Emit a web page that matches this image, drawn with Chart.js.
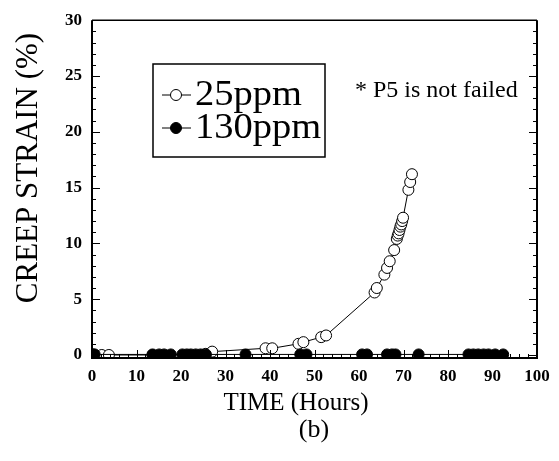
<!DOCTYPE html>
<html><head><meta charset="utf-8">
<script src="https://cdn.jsdelivr.net/npm/chart.js@4/dist/chart.umd.min.js"></script>
<style>html,body{margin:0;padding:0;background:#fff;} #wrap{position:relative;width:559px;height:461px;}</style>
</head><body><div id="wrap"><canvas id="c" width="559" height="461"></canvas></div>
<script>
// ---- data ----
const time25   = [0, 2.2, 3.8, 13.6, 25.5, 27.0, 39.0, 40.5, 46.4, 47.5, 51.5, 52.6, 63.5, 64.0, 65.7, 66.3, 66.9, 67.9, 68.5, 68.7, 68.9, 69.1, 69.3, 69.5, 69.7, 69.9, 71.1, 71.5, 71.9];
const strain25 = [0, 0, 0, 0, 0.1, 0.3, 0.6, 0.6, 1.0, 1.15, 1.6, 1.75, 5.6, 6.0, 7.2, 7.8, 8.4, 9.4, 10.4, 10.7, 10.9, 11.2, 11.5, 11.7, 12.0, 12.3, 14.8, 15.5, 16.2];
const time130   = [0, 0.3, 0.6, 13.6, 15.1, 16.2, 17.7, 20.3, 21.3, 22.2, 23.3, 24.4, 25.6, 34.5, 46.8, 48.2, 60.7, 61.8, 66.3, 67.4, 68.2, 73.4, 84.6, 85.7, 86.8, 88.0, 89.1, 90.6, 92.4];
const strain130 = [0.05, 0.05, 0.05, 0.05, 0.05, 0.05, 0.05, 0.05, 0.05, 0.05, 0.05, 0.05, 0.05, 0.05, 0.05, 0.05, 0.05, 0.05, 0.05, 0.05, 0.05, 0.05, 0.05, 0.05, 0.05, 0.05, 0.05, 0.05, 0.05];
const xTicks = [0, 10, 20, 30, 40, 50, 60, 70, 80, 90, 100];
const yTicks = [0, 5, 10, 15, 20, 25, 30];
const seriesNames = ['25ppm', '130ppm'];
const xTitle = 'TIME (Hours)';
const yTitle = 'CREEP STRAIN (%)';
const caption = '(b)';
const note = '* P5 is not failed';

const SERIF = '"Liberation Serif", "Times New Roman", serif';

const framePlugin = {
  id: 'frame',
  afterDatasetsDraw(chart) {
    const {ctx, chartArea: a, scales: {x, y}} = chart;
    ctx.save();
    ctx.strokeStyle = '#000';
    ctx.lineWidth = 1;
    ctx.beginPath();
    for (let v = 0; v <= 30; v += 1) {
      const py = Math.round(y.getPixelForValue(v)) + 0.5;
      const len = (v % 5 === 0) ? 8 : 4;
      ctx.moveTo(a.left, py); ctx.lineTo(a.left + len, py);
      ctx.moveTo(a.right, py); ctx.lineTo(a.right - len, py);
    }
    for (let v = 0; v <= 100; v += 2) {
      const px = Math.round(x.getPixelForValue(v)) + 0.5;
      const len = (v % 10 === 0) ? 8 : 4;
      ctx.moveTo(px, a.bottom); ctx.lineTo(px, a.bottom - len);
    }
    ctx.stroke();
    ctx.lineWidth = 2;
    ctx.beginPath();
    ctx.moveTo(a.left, a.top); ctx.lineTo(a.left, a.bottom); ctx.lineTo(a.right, a.bottom); ctx.lineTo(a.right, a.top);
    ctx.stroke();
    ctx.lineWidth = 1.5;
    ctx.beginPath();
    ctx.moveTo(a.left, a.top); ctx.lineTo(a.right, a.top);
    ctx.stroke();
    ctx.restore();
  }
};

const textPlugin = {
  id: 'texts',
  afterDraw(chart) {
    const {ctx} = chart;
    ctx.save();
    ctx.fillStyle = '#000';
    ctx.strokeStyle = '#000';
    ctx.lineWidth = 1.5;
    ctx.strokeRect(153, 64, 172, 93);
    const rows = [{name: seriesNames[0], y: 95, fill: '#fff'}, {name: seriesNames[1], y: 128, fill: '#000'}];
    ctx.textBaseline = 'middle';
    ctx.textAlign = 'left';
    rows.forEach(r => {
      ctx.lineWidth = 1;
      ctx.beginPath(); ctx.moveTo(162, r.y); ctx.lineTo(191, r.y); ctx.stroke();
      ctx.beginPath(); ctx.arc(176, r.y, 5.5, 0, Math.PI * 2);
      ctx.fillStyle = r.fill; ctx.fill(); ctx.stroke();
      ctx.fillStyle = '#000';
      ctx.save();
      ctx.translate(195, r.y + 1);
      ctx.scale(1.1, 1);
      ctx.font = '35px ' + SERIF;
      ctx.fillText(r.name, 0, 0);
      ctx.restore();
    });
    ctx.font = '24px ' + SERIF;
    ctx.fillText(note, 355, 91);
    ctx.textAlign = 'center';
    ctx.font = '25px ' + SERIF;
    ctx.fillText(xTitle, 296, 403);
    ctx.font = '26px ' + SERIF;
    ctx.fillText(caption, 314, 430);
    ctx.translate(29, 168);
    ctx.rotate(-Math.PI / 2);
    ctx.font = '31px ' + SERIF;
    ctx.fillText(yTitle, 0, 0);
    ctx.restore();
  }
};

new Chart(document.getElementById('c'), {
  type: 'scatter',
  data: {
    datasets: [
      {
        label: seriesNames[1],
        data: time130.map((t, i) => ({x: t, y: strain130[i]})),
        showLine: true, borderColor: '#000', borderWidth: 1,
        pointRadius: 5.5, pointBackgroundColor: '#000', pointBorderColor: '#000', pointBorderWidth: 1,
        order: 0
      },
      {
        label: seriesNames[0],
        data: time25.map((t, i) => ({x: t, y: strain25[i]})),
        showLine: true, borderColor: '#000', borderWidth: 1,
        pointRadius: 5.5, pointBackgroundColor: '#fff', pointBorderColor: '#000', pointBorderWidth: 1,
        order: 1
      }
    ]
  },
  options: {
    responsive: false, animation: false, devicePixelRatio: 1,
    layout: {padding: {left: 0, right: 22, top: 16, bottom: 0}},
    plugins: {legend: {display: false}, tooltip: {enabled: false}},
    scales: {
      x: {
        type: 'linear', min: 0, max: 100,
        afterBuildTicks: s => { s.ticks = xTicks.map(v => ({value: v})); },
        afterFit: s => { s.height = 103; },
        grid: {display: false, drawTicks: false}, border: {display: false},
        ticks: {padding: 8, color: '#000', font: {family: SERIF, size: 17, weight: 'bold'}}
      },
      y: {
        type: 'linear', min: -0.27, max: 30,
        afterBuildTicks: s => { s.ticks = yTicks.map(v => ({value: v})); },
        afterFit: s => { s.width = 92; },
        grid: {display: false, drawTicks: false}, border: {display: false},
        ticks: {padding: 10, color: '#000', font: {family: SERIF, size: 17, weight: 'bold'}}
      }
    }
  },
  plugins: [framePlugin, textPlugin]
});
</script></body></html>
